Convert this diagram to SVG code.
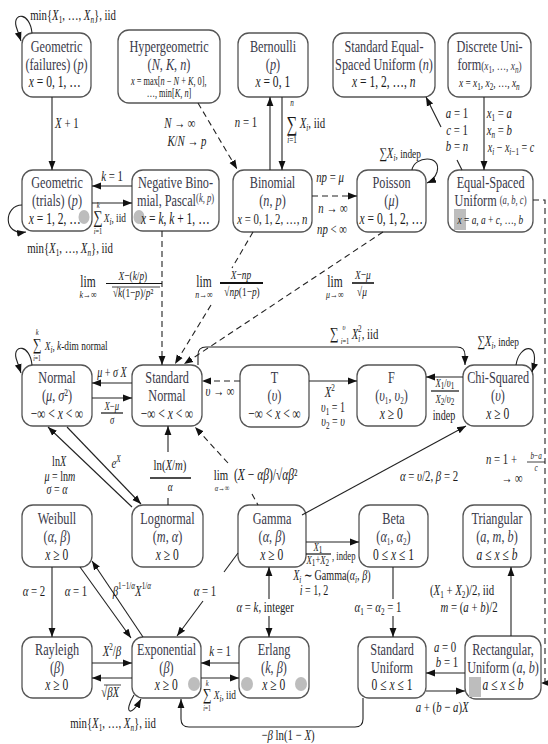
<svg xmlns="http://www.w3.org/2000/svg" width="548" height="744" viewBox="0 0 548 744">
<defs>
<marker id="a" viewBox="0 0 10 10" refX="10" refY="5" markerWidth="9" markerHeight="9" markerUnits="userSpaceOnUse" orient="auto"><path d="M0,1.2 L10,5 L0,8.8 z" fill="#111"/></marker>
<style>
.bx{fill:#fff;stroke:#555;stroke-width:1.3}
.c{fill:none;stroke:#222;stroke-width:1.1}
.d{stroke-dasharray:6 4}
.g{fill:#bdbdbd}
.bar{stroke:#111;stroke-width:1.2}
text{font-family:"Liberation Serif","Times New Roman",serif;fill:#1a1a1a;transform-box:fill-box;transform-origin:center;transform:scaleX(.72)}
.n{font-size:17px;text-anchor:middle;fill:#3a3a4a}
.m{font-size:16px;text-anchor:middle}
.l{font-size:15px;text-anchor:middle}
.s{font-size:12px;text-anchor:middle}
.st{text-anchor:start;transform-origin:left center}
.i{font-style:italic}
.sb{font-size:10px}
</style>
</defs>
<rect width="548" height="744" fill="#fff"/>

<g id="n-geomf"><rect class="bx" x="22" y="33" width="69" height="64" rx="11"/>
<text class="n" x="56.5" y="52">Geometric</text>
<text class="n" x="56.5" y="70">(failures) (<tspan class="i">p</tspan>)</text>
<text class="m" x="55" y="87"><tspan class="i">x</tspan> = 0, 1, …</text></g>

<g id="n-hyper"><rect class="bx" x="118" y="30" width="102" height="73" rx="11"/>
<text class="n" x="169" y="52">Hypergeometric</text>
<text class="n" x="169" y="70">(<tspan class="i">N</tspan>, <tspan class="i">K</tspan>, <tspan class="i">n</tspan>)</text>
<text class="m" x="169" y="85" style="font-size:11.5px"><tspan class="i">x</tspan> = max[<tspan class="i">n</tspan> − <tspan class="i">N</tspan> + <tspan class="i">K</tspan>, 0],</text>
<text class="m" x="169" y="97" style="font-size:11.5px">…, min[<tspan class="i">K</tspan>, <tspan class="i">n</tspan>]</text></g>

<g id="n-bern"><rect class="bx" x="238" y="33" width="70" height="64" rx="11"/>
<text class="n" x="273" y="52">Bernoulli</text>
<text class="n" x="273" y="70">(<tspan class="i">p</tspan>)</text>
<text class="m" x="273" y="87"><tspan class="i">x</tspan> = 0, 1</text></g>

<g id="n-sesu"><rect class="bx" x="333" y="33" width="102" height="64" rx="11"/>
<text class="n" x="384" y="52">Standard Equal-</text>
<text class="n" x="384" y="70">Spaced Uniform (<tspan class="i">n</tspan>)</text>
<text class="m" x="384" y="87"><tspan class="i">x</tspan> = 1, 2, …, <tspan class="i">n</tspan></text></g>

<g id="n-du"><rect class="bx" x="448" y="33" width="83" height="64" rx="11"/>
<text class="n" x="489.5" y="52">Discrete  Uni-</text>
<text class="n" x="489.5" y="70">form<tspan style="font-size:13px">(<tspan class="i">x</tspan><tspan class="sb" dy="3">1</tspan><tspan dy="-3">, …, </tspan><tspan class="i">x</tspan><tspan class="sb i" dy="3">n</tspan><tspan dy="-3">)</tspan></tspan></text>
<text class="m" x="489.5" y="87" style="font-size:13px"><tspan class="i">x</tspan> = <tspan class="i">x</tspan><tspan class="sb" dy="3">1</tspan><tspan dy="-3">, </tspan><tspan class="i">x</tspan><tspan class="sb" dy="3">2</tspan><tspan dy="-3">, …, </tspan><tspan class="i">x</tspan><tspan class="sb i" dy="3">n</tspan></text></g>

<g id="n-geomt"><rect class="bx" x="22" y="170" width="70" height="61" rx="11"/>
<ellipse class="g" cx="84" cy="217" rx="5.5" ry="7"/>
<text class="n" x="57" y="188">Geometric</text>
<text class="n" x="57" y="206">(trials) (<tspan class="i">p</tspan>)</text>
<text class="m" x="55" y="224"><tspan class="i">x</tspan> = 1, 2, …</text></g>

<g id="n-negbin"><rect class="bx" x="132" y="170" width="87" height="61" rx="11"/>
<ellipse class="g" cx="139" cy="217" rx="5.5" ry="7"/>
<text class="n" x="175.5" y="188">Negative Bino-</text>
<text class="n" x="175.5" y="206">mial, Pascal<tspan style="font-size:12px" dy="-4">(<tspan class="i">k</tspan>, <tspan class="i">p</tspan>)</tspan></text>
<text class="m" x="175.5" y="224"><tspan class="i">x</tspan> = <tspan class="i">k</tspan>, <tspan class="i">k</tspan> + 1, …</text></g>

<g id="n-binom"><rect class="bx" x="233" y="170" width="79" height="62" rx="11"/>
<text class="n" x="272.5" y="188">Binomial</text>
<text class="n" x="272.5" y="206">(<tspan class="i">n</tspan>, <tspan class="i">p</tspan>)</text>
<text class="m" x="272.5" y="224" style="font-size:15px"><tspan class="i">x</tspan> = 0, 1, 2, …, <tspan class="i">n</tspan></text></g>

<g id="n-pois"><rect class="bx" x="357" y="170" width="69" height="62" rx="11"/>
<text class="n" x="391.5" y="188">Poisson</text>
<text class="n" x="391.5" y="206">(<tspan class="i">μ</tspan>)</text>
<text class="m" x="391.5" y="224"><tspan class="i">x</tspan> = 0, 1, 2, …</text></g>

<g id="n-esu"><rect class="bx" x="448" y="170" width="85" height="62" rx="11"/>
<rect class="g" x="454" y="209" width="12" height="21"/>
<text class="n" x="490.5" y="188">Equal-Spaced</text>
<text class="n" x="490.5" y="206">Uniform <tspan style="font-size:12px" dy="-2">(<tspan class="i">a</tspan>, <tspan class="i">b</tspan>, <tspan class="i">c</tspan>)</tspan></text>
<text class="m" x="490.5" y="224" style="font-size:13px"><tspan class="i">x</tspan> = <tspan class="i">a</tspan>, <tspan class="i">a</tspan> + <tspan class="i">c</tspan>, …, <tspan class="i">b</tspan></text></g>

<g id="n-normal"><rect class="bx" x="22" y="365" width="70" height="61" rx="11"/>
<text class="n" x="57" y="383">Normal</text>
<text class="n" x="57" y="401">(<tspan class="i">μ</tspan>, <tspan class="i">σ</tspan>²)</text>
<text class="m" x="57" y="419">−∞ &lt; <tspan class="i">x</tspan> &lt; ∞</text></g>

<g id="n-stdnorm"><rect class="bx" x="132" y="365" width="70" height="61" rx="11"/>
<text class="n" x="167" y="383">Standard</text>
<text class="n" x="167" y="401">Normal</text>
<text class="m" x="167" y="419">−∞ &lt; <tspan class="i">x</tspan> &lt; ∞</text></g>

<g id="n-t"><rect class="bx" x="240" y="365" width="69" height="62" rx="11"/>
<text class="n" x="274.5" y="383">T</text>
<text class="n" x="274.5" y="401">(<tspan class="i">υ</tspan>)</text>
<text class="m" x="274.5" y="419">−∞ &lt; <tspan class="i">x</tspan> &lt; ∞</text></g>

<g id="n-f"><rect class="bx" x="357" y="365" width="69" height="61" rx="11"/>
<text class="n" x="391.5" y="383">F</text>
<text class="n" x="391.5" y="401">(<tspan class="i">υ</tspan><tspan class="sb" dy="3">1</tspan><tspan dy="-3">, </tspan><tspan class="i">υ</tspan><tspan class="sb" dy="3">2</tspan><tspan dy="-3">)</tspan></text>
<text class="m" x="391.5" y="419"><tspan class="i">x</tspan> ≥ 0</text></g>

<g id="n-chi"><rect class="bx" x="463" y="365" width="70" height="61" rx="11"/>
<text class="n" x="498" y="383">Chi-Squared</text>
<text class="n" x="498" y="401">(<tspan class="i">υ</tspan>)</text>
<text class="m" x="498" y="419"><tspan class="i">x</tspan> ≥ 0</text></g>

<g id="n-weib"><rect class="bx" x="22" y="505" width="70" height="62" rx="11"/>
<text class="n" x="57" y="524">Weibull</text>
<text class="n" x="57" y="542">(<tspan class="i">α</tspan>, <tspan class="i">β</tspan>)</text>
<text class="m" x="57" y="560"><tspan class="i">x</tspan> ≥ 0</text></g>

<g id="n-logn"><rect class="bx" x="132" y="505" width="71" height="62" rx="11"/>
<text class="n" x="167.5" y="524">Lognormal</text>
<text class="n" x="167.5" y="542">(<tspan class="i">m</tspan>, <tspan class="i">α</tspan>)</text>
<text class="m" x="167.5" y="560"><tspan class="i">x</tspan> ≥ 0</text></g>

<g id="n-gamma"><rect class="bx" x="238" y="505" width="68" height="62" rx="11"/>
<text class="n" x="272" y="524">Gamma</text>
<text class="n" x="272" y="542">(<tspan class="i">α</tspan>, <tspan class="i">β</tspan>)</text>
<text class="m" x="272" y="560"><tspan class="i">x</tspan> ≥ 0</text></g>

<g id="n-beta"><rect class="bx" x="359" y="505" width="69" height="62" rx="11"/>
<text class="n" x="393.5" y="524">Beta</text>
<text class="n" x="393.5" y="542">(<tspan class="i">α</tspan><tspan class="sb" dy="3">1</tspan><tspan dy="-3">, </tspan><tspan class="i">α</tspan><tspan class="sb" dy="3">2</tspan><tspan dy="-3">)</tspan></text>
<text class="m" x="393.5" y="560">0 ≤ <tspan class="i">x</tspan> ≤ 1</text></g>

<g id="n-tri"><rect class="bx" x="463" y="505" width="68" height="62" rx="11"/>
<text class="n" x="497" y="524">Triangular</text>
<text class="n" x="497" y="542">(<tspan class="i">a</tspan>, <tspan class="i">m</tspan>, <tspan class="i">b</tspan>)</text>
<text class="m" x="497" y="560"><tspan class="i">a</tspan> ≤ <tspan class="i">x</tspan> ≤ <tspan class="i">b</tspan></text></g>

<g id="n-rayl"><rect class="bx" x="22" y="637" width="70" height="61" rx="11"/>
<text class="n" x="57" y="655">Rayleigh</text>
<text class="n" x="57" y="673">(<tspan class="i">β</tspan>)</text>
<text class="m" x="57" y="690"><tspan class="i">x</tspan> ≥ 0</text></g>

<g id="n-exp"><rect class="bx" x="132" y="637" width="69" height="61" rx="11"/>
<ellipse class="g" cx="194" cy="684" rx="6" ry="7"/>
<text class="n" x="166.5" y="655">Exponential</text>
<text class="n" x="166.5" y="673">(<tspan class="i">β</tspan>)</text>
<text class="m" x="166.5" y="690"><tspan class="i">x</tspan> ≥ 0</text></g>

<g id="n-erl"><rect class="bx" x="239" y="637" width="70" height="61" rx="11"/>
<ellipse class="g" cx="247" cy="684" rx="6" ry="7"/>
<ellipse class="g" cx="301" cy="684" rx="6" ry="7"/>
<text class="n" x="274" y="655">Erlang</text>
<text class="n" x="274" y="673">(<tspan class="i">k</tspan>, <tspan class="i">β</tspan>)</text>
<text class="m" x="274" y="690"><tspan class="i">x</tspan> ≥ 0</text></g>

<g id="n-stdu"><rect class="bx" x="358" y="637" width="68" height="61" rx="11"/>
<text class="n" x="392" y="655">Standard</text>
<text class="n" x="392" y="673">Uniform</text>
<text class="m" x="392" y="690">0 ≤ <tspan class="i">x</tspan> ≤ 1</text></g>

<g id="n-rect"><rect class="bx" x="465" y="636" width="76" height="63" rx="11"/>
<rect class="g" x="469" y="677" width="12" height="20"/>
<text class="n" x="503" y="655">Rectangular,</text>
<text class="n" x="503" y="673">Uniform (<tspan class="i">a</tspan>, <tspan class="i">b</tspan>)</text>
<text class="m" x="503" y="690"><tspan class="i">a</tspan> ≤ <tspan class="i">x</tspan> ≤ <tspan class="i">b</tspan></text></g>

<g id="connectors">
<path class="c" d="M32,33 C30,12 13,12 16,26 L21,41" marker-end="url(#a)"/>
<path class="c" d="M52,97 V170" marker-end="url(#a)"/>
<path class="c" d="M132,186 H92" marker-end="url(#a)"/>
<path class="c" d="M92,203 H132" marker-end="url(#a)"/>
<path class="c" d="M22,205 C4,205 2,236 26,232" marker-end="url(#a)"/>
<path class="c d" d="M198,103 L237,169" marker-end="url(#a)"/>
<path class="c" d="M270,170 V97" marker-end="url(#a)"/>
<path class="c" d="M282,97 V170" marker-end="url(#a)"/>
<path class="c d" d="M312,196 H357" marker-end="url(#a)"/>
<path class="c" d="M412,170 C414,156 442,154 437,172 C435,178 432,181 427,183" marker-end="url(#a)"/>
<path class="c" d="M441,127 L426,97" marker-end="url(#a)"/>
<path class="c" d="M457,160 L462,170"/>
<path class="c" d="M484,97 V170" marker-end="url(#a)"/>
<path class="c d" d="M533,200 H545 V683 H541" marker-end="url(#a)"/>
<path class="c d" d="M162,231 V365" marker-end="url(#a)"/>
<path class="c d" d="M253,232 L232,268"/>
<path class="c d" d="M211,305 L175,364" marker-end="url(#a)"/>
<path class="c d" d="M383,232 L184,364" marker-end="url(#a)"/>
<path class="c" d="M198,365 V355 Q198,347 206,347 H457 Q465,347 465,355 V365" marker-end="url(#a)"/>
<path class="c" d="M32,365 C30,344 13,344 16,358 L21,373" marker-end="url(#a)"/>
<path class="c" d="M132,383 H92" marker-end="url(#a)"/>
<path class="c" d="M92,398 H132" marker-end="url(#a)"/>
<path class="c d" d="M240,381 H202" marker-end="url(#a)"/>
<path class="c" d="M309,381 H357" marker-end="url(#a)"/>
<path class="c" d="M463,377 H426" marker-end="url(#a)"/>
<path class="c" d="M516,365 C519,344 542,340 532,372" marker-end="url(#a)"/>
<path class="c" d="M132,507 L48,427" marker-end="url(#a)"/>
<path class="c" d="M67,427 L141,504" marker-end="url(#a)"/>
<path class="c" d="M168,505 V498"/>
<path class="c" d="M168,452 V426" marker-end="url(#a)"/>
<path class="c d" d="M228,463 L195,427" marker-end="url(#a)"/>
<path class="c d" d="M252,494 L258,505"/>
<path class="c" d="M302,515 L466,426" marker-end="url(#a)"/>
<path class="c" d="M306,542 H359" marker-end="url(#a)"/>
<path class="c" d="M393,567 V599"/>
<path class="c" d="M393,616 V637" marker-end="url(#a)"/>
<path class="c" d="M269,599 V567" marker-end="url(#a)"/>
<path class="c" d="M269,616 V637" marker-end="url(#a)"/>
<path class="c" d="M238,553 L224,572"/>
<path class="c" d="M203,601 L177,636" marker-end="url(#a)"/>
<path class="c" d="M52,567 V637" marker-end="url(#a)"/>
<path class="c" d="M80,567 L131,638" marker-end="url(#a)"/>
<path class="c" d="M143,637 L92,561" marker-end="url(#a)"/>
<path class="c" d="M92,663 H132" marker-end="url(#a)"/>
<path class="c" d="M132,678 H92" marker-end="url(#a)"/>
<path class="c" d="M134,695 C123,713 131,718 141,699" marker-end="url(#a)"/>
<path class="c" d="M239,663 H201" marker-end="url(#a)"/>
<path class="c" d="M201,678 H239" marker-end="url(#a)"/>
<path class="c" d="M363,698 V719 Q363,727 355,727 H189 Q181,727 181,719 V699" marker-end="url(#a)"/>
<path class="c" d="M465,673 H426" marker-end="url(#a)"/>
<path class="c" d="M426,691 H465" marker-end="url(#a)"/>
<path class="c" d="M511,636 V567" marker-end="url(#a)"/>
</g>

<g id="labels">
<text class="l" x="73" y="20">min{<tspan class="i">X</tspan><tspan class="sb" dy="3">1</tspan><tspan dy="-3">, …, </tspan><tspan class="i">X</tspan><tspan class="sb i" dy="3">n</tspan><tspan dy="-3">}, iid</tspan></text>
<text class="l" x="67" y="128"><tspan class="i">X</tspan> + 1</text>
<text class="l" x="180" y="128"><tspan class="i">N</tspan> → ∞</text>
<text class="l" x="187" y="146"><tspan class="i">K</tspan>/<tspan class="i">N</tspan> → <tspan class="i">p</tspan></text>
<text class="l" x="246" y="127"><tspan class="i">n</tspan> = 1</text>
<text class="s i" x="292" y="106" style="font-size:10px">n</text>
<text class="l" x="292" y="131" style="font-size:21px">∑</text>
<text class="s" x="292" y="143" style="font-size:10px"><tspan class="i">i</tspan>=1</text>
<text class="l st" x="300" y="128"><tspan class="i">X</tspan><tspan class="sb i" dy="3">i</tspan><tspan dy="-3">, iid</tspan></text>
<text class="l" x="330" y="182"><tspan class="i">np</tspan> = <tspan class="i">μ</tspan></text>
<text class="l" x="333" y="213"><tspan class="i">n</tspan> → ∞</text>
<text class="l" x="332" y="234"><tspan class="i">np</tspan> &lt; ∞</text>
<text class="l" x="400" y="158">∑<tspan class="i">X</tspan><tspan class="sb i" dy="3">i</tspan><tspan dy="-3" style="font-size:13px">, indep</tspan></text>
<text class="l" x="457" y="118"><tspan class="i">a</tspan> = 1</text>
<text class="l" x="457" y="135"><tspan class="i">c</tspan> = 1</text>
<text class="l" x="457" y="151"><tspan class="i">b</tspan> = <tspan class="i">n</tspan></text>
<text class="l st" x="487" y="118"><tspan class="i">x</tspan><tspan class="sb" dy="3">1</tspan><tspan dy="-3"> = </tspan><tspan class="i">a</tspan></text>
<text class="l st" x="487" y="135"><tspan class="i">x</tspan><tspan class="sb i" dy="3">n</tspan><tspan dy="-3"> = </tspan><tspan class="i">b</tspan></text>
<text class="l st" x="488" y="152" style="font-size:14px"><tspan class="i">x</tspan><tspan class="sb i" dy="3">i</tspan><tspan dy="-3"> − </tspan><tspan class="i">x</tspan><tspan class="sb" dy="3"><tspan class="i">i</tspan>−1</tspan><tspan dy="-3"> = </tspan><tspan class="i">c</tspan></text>
<text class="l" x="112" y="181"><tspan class="i">k</tspan> = 1</text>
<text class="s i" x="98" y="208" style="font-size:9px">k</text>
<text class="l" x="98" y="223" style="font-size:18px">∑</text>
<text class="s" x="98" y="234" style="font-size:9px"><tspan class="i">i</tspan>=1</text>
<text class="l st" x="104" y="222" style="font-size:13px"><tspan class="i">X</tspan><tspan class="sb i" dy="3">i</tspan><tspan dy="-3">, iid</tspan></text>
<text class="l" x="70" y="253">min{<tspan class="i">X</tspan><tspan class="sb" dy="3">1</tspan><tspan dy="-3">, …, </tspan><tspan class="i">X</tspan><tspan class="sb i" dy="3">n</tspan><tspan dy="-3">}, iid</tspan></text>
<text class="l" x="88" y="287" style="font-size:16px">lim</text>
<text class="s" x="88" y="298" style="font-size:11px"><tspan class="i">k</tspan>→∞</text>
<text class="s" x="133" y="280" style="font-size:13px"><tspan class="i">X</tspan>−(<tspan class="i">k</tspan>/<tspan class="i">p</tspan>)</text>
<line class="bar" x1="106" y1="283.5" x2="162" y2="283.5"/>
<text class="s" x="133" y="297" style="font-size:13px">√<tspan class="i">k</tspan>(1−<tspan class="i">p</tspan>)/<tspan class="i">p</tspan>²</text>
<line class="bar" x1="112" y1="287" x2="160" y2="287" style="stroke-width:.8"/>
<text class="l" x="204" y="287" style="font-size:16px">lim</text>
<text class="s" x="204" y="298" style="font-size:11px"><tspan class="i">n</tspan>→∞</text>
<text class="s" x="241" y="279" style="font-size:13px"><tspan class="i">X</tspan>−<tspan class="i">np</tspan></text>
<line class="bar" x1="220" y1="283" x2="263" y2="283" style="stroke-width:2"/>
<text class="s" x="242" y="296" style="font-size:13px">√<tspan class="i">np</tspan>(1−<tspan class="i">p</tspan>)</text>
<text class="l" x="335" y="287" style="font-size:16px">lim</text>
<text class="s" x="335" y="298" style="font-size:11px"><tspan class="i">μ</tspan>→∞</text>
<text class="s" x="363" y="279" style="font-size:13px"><tspan class="i">X</tspan>−<tspan class="i">μ</tspan></text>
<line class="bar" x1="352" y1="283" x2="374" y2="283" style="stroke-width:1.6"/>
<text class="s" x="362" y="296" style="font-size:13px">√<tspan class="i">μ</tspan></text>
<text class="l" x="334" y="339" style="font-size:17px">∑</text>
<text class="s i" x="344" y="330" style="font-size:9px">υ</text>
<text class="s" x="345" y="344" style="font-size:9px"><tspan class="i">i</tspan>=1</text>
<text class="l st" x="352" y="339"><tspan class="i">X</tspan><tspan class="sb i" dy="3">i</tspan><tspan class="sb" dx="-3" dy="-10">2</tspan><tspan dy="7">, iid</tspan></text>
<text class="s i" x="37" y="335" style="font-size:9px">k</text>
<text class="l" x="37" y="350" style="font-size:17px">∑</text>
<text class="s" x="37" y="361" style="font-size:8px"><tspan class="i">i</tspan>=1</text>
<text class="l st" x="45" y="350" style="font-size:13px"><tspan class="i">X</tspan><tspan class="sb i" dy="3">i</tspan><tspan dy="-3">, </tspan><tspan class="i">k</tspan>-dim normal</text>
<text class="l" x="112" y="377" style="font-size:14px"><tspan class="i">μ</tspan> + <tspan class="i">σ</tspan> <tspan class="i">X</tspan></text>
<text class="s" x="112" y="410"><tspan class="i">X</tspan>−<tspan class="i">μ</tspan></text>
<line class="bar" x1="101" y1="413" x2="123" y2="413"/>
<text class="s i" x="112" y="424">σ</text>
<text class="l" x="220" y="396"><tspan class="i">υ</tspan> → ∞</text>
<text class="l" x="330" y="397"><tspan class="i">X</tspan><tspan class="sb" dy="-6">2</tspan></text>
<text class="l" x="333" y="412" style="font-size:14px"><tspan class="i">υ</tspan><tspan class="sb" dy="3">1</tspan><tspan dy="-3"> = 1</tspan></text>
<text class="l" x="333" y="426" style="font-size:14px"><tspan class="i">υ</tspan><tspan class="sb" dy="3">2</tspan><tspan dy="-3"> = </tspan><tspan class="i">υ</tspan></text>
<text class="s" x="445" y="387"><tspan class="i">X</tspan><tspan class="sb" dy="2">1</tspan><tspan dy="-2">/</tspan><tspan class="i">υ</tspan><tspan class="sb" dy="2">1</tspan></text>
<line class="bar" x1="431" y1="391" x2="459" y2="391"/>
<text class="s" x="445" y="403"><tspan class="i">X</tspan><tspan class="sb" dy="2">2</tspan><tspan dy="-2">/</tspan><tspan class="i">υ</tspan><tspan class="sb" dy="2">2</tspan></text>
<text class="l" x="444" y="420" style="font-size:14px">indep</text>
<text class="l" x="498" y="346">∑<tspan class="i">X</tspan><tspan class="sb i" dy="3">i</tspan><tspan dy="-3" style="font-size:13px">, indep</tspan></text>
<text class="l" x="59" y="466" style="font-size:14px">ln<tspan class="i">X</tspan></text>
<text class="l" x="60" y="481" style="font-size:14px"><tspan class="i">μ</tspan> = ln<tspan class="i">m</tspan></text>
<text class="l" x="57" y="494" style="font-size:14px"><tspan class="i">σ</tspan> = <tspan class="i">α</tspan></text>
<text class="l" x="116" y="468"><tspan class="i">e</tspan><tspan class="sb i" dy="-6">X</tspan></text>
<text class="l" x="170" y="470">ln(<tspan class="i">X</tspan>/<tspan class="i">m</tspan>)</text>
<line class="bar" x1="150" y1="478" x2="191" y2="478" style="stroke-width:1.6"/>
<text class="l i" x="170" y="491" style="font-size:13px">α</text>
<text class="l" x="221" y="480" style="font-size:15px">lim</text>
<text class="s" x="222" y="491" style="font-size:9px"><tspan class="i">α</tspan>→∞</text>
<text class="l st" x="234" y="480" style="font-size:16px">(<tspan class="i">X</tspan> − <tspan class="i">αβ</tspan>)/√<tspan class="i">αβ</tspan>²</text>
<text class="l" x="429" y="481"><tspan class="i">α</tspan> = <tspan class="i">υ</tspan>/2, <tspan class="i">β</tspan> = 2</text>
<text class="l st" x="486" y="464"><tspan class="i">n</tspan> = 1 +</text>
<text class="s" x="536" y="459" style="font-size:10px"><tspan class="i">b</tspan>−<tspan class="i">a</tspan></text>
<line class="bar" x1="527" y1="462" x2="545" y2="462" style="stroke-width:.8"/>
<text class="s i" x="536" y="471" style="font-size:10px">c</text>
<text class="l" x="512" y="483">→ ∞</text>
<text class="s" x="318" y="551"><tspan class="i">X</tspan><tspan class="sb" dy="2">1</tspan></text>
<line class="bar" x1="306" y1="554" x2="331" y2="554"/>
<text class="s" x="318" y="564"><tspan class="i">X</tspan><tspan class="sb" dy="2">1</tspan><tspan dy="-2">+</tspan><tspan class="i">X</tspan><tspan class="sb" dy="2">2</tspan></text>
<text class="s st" x="332" y="560">, indep</text>
<text class="l" x="332" y="580" style="font-size:14px"><tspan class="i">X</tspan><tspan class="sb i" dy="3">i</tspan><tspan dy="-3"> ∼ Gamma(</tspan><tspan class="i">α</tspan><tspan class="sb i" dy="3">i</tspan><tspan dy="-3">, </tspan><tspan class="i">β</tspan>)</text>
<text class="l" x="314" y="595" style="font-size:14px"><tspan class="i">i</tspan> = 1, 2</text>
<text class="l" x="378" y="612"><tspan class="i">α</tspan><tspan class="sb" dy="3">1</tspan><tspan dy="-3"> = </tspan><tspan class="i">α</tspan><tspan class="sb" dy="3">2</tspan><tspan dy="-3"> = 1</tspan></text>
<text class="l" x="265" y="612"><tspan class="i">α</tspan> = <tspan class="i">k</tspan>, integer</text>
<text class="l" x="205" y="596"><tspan class="i">α</tspan> = 1</text>
<text class="l" x="34" y="596"><tspan class="i">α</tspan> = 2</text>
<text class="l" x="76" y="596"><tspan class="i">α</tspan> = 1</text>
<text class="l st" x="113" y="596"><tspan class="i">β</tspan><tspan class="sb" dy="-7">1−1/<tspan class="i">α</tspan></tspan><tspan class="i" dy="7">X</tspan><tspan class="sb" dy="-7">1/<tspan class="i">α</tspan></tspan></text>
<text class="l" x="112" y="656"><tspan class="i">X</tspan><tspan class="sb" dy="-6">2</tspan><tspan dy="6">/</tspan><tspan class="i">β</tspan></text>
<text class="l" x="110" y="697">√<tspan class="i">βX</tspan></text>
<line class="bar" x1="104" y1="685" x2="121" y2="685" style="stroke-width:.8"/>
<text class="l" x="113" y="728">min{<tspan class="i">X</tspan><tspan class="sb" dy="3">1</tspan><tspan dy="-3">, …, </tspan><tspan class="i">X</tspan><tspan class="sb i" dy="3">n</tspan><tspan dy="-3">}, iid</tspan></text>
<text class="l" x="220" y="656"><tspan class="i">k</tspan> = 1</text>
<text class="s i" x="207" y="686" style="font-size:9px">k</text>
<text class="l" x="207" y="700" style="font-size:17px">∑</text>
<text class="s" x="207" y="711" style="font-size:8px"><tspan class="i">i</tspan>=1</text>
<text class="l st" x="214" y="699" style="font-size:13px"><tspan class="i">X</tspan><tspan class="sb i" dy="3">i</tspan><tspan dy="-3">, iid</tspan></text>
<text class="l" x="288" y="740">−<tspan class="i">β</tspan> ln(1 − <tspan class="i">X</tspan>)</text>
<text class="l" x="445" y="652"><tspan class="i">a</tspan> = 0</text>
<text class="l" x="447" y="667"><tspan class="i">b</tspan> = 1</text>
<text class="l" x="442" y="712"><tspan class="i">a</tspan> + (<tspan class="i">b</tspan> − <tspan class="i">a</tspan>)<tspan class="i">X</tspan></text>
<text class="l" x="462" y="595">(<tspan class="i">X</tspan><tspan class="sb" dy="3">1</tspan><tspan dy="-3"> + </tspan><tspan class="i">X</tspan><tspan class="sb" dy="3">2</tspan><tspan dy="-3">)/2, iid</tspan></text>
<text class="l" x="469" y="612"><tspan class="i">m</tspan> = (<tspan class="i">a</tspan> + <tspan class="i">b</tspan>)/2</text>
</g>
</svg>
